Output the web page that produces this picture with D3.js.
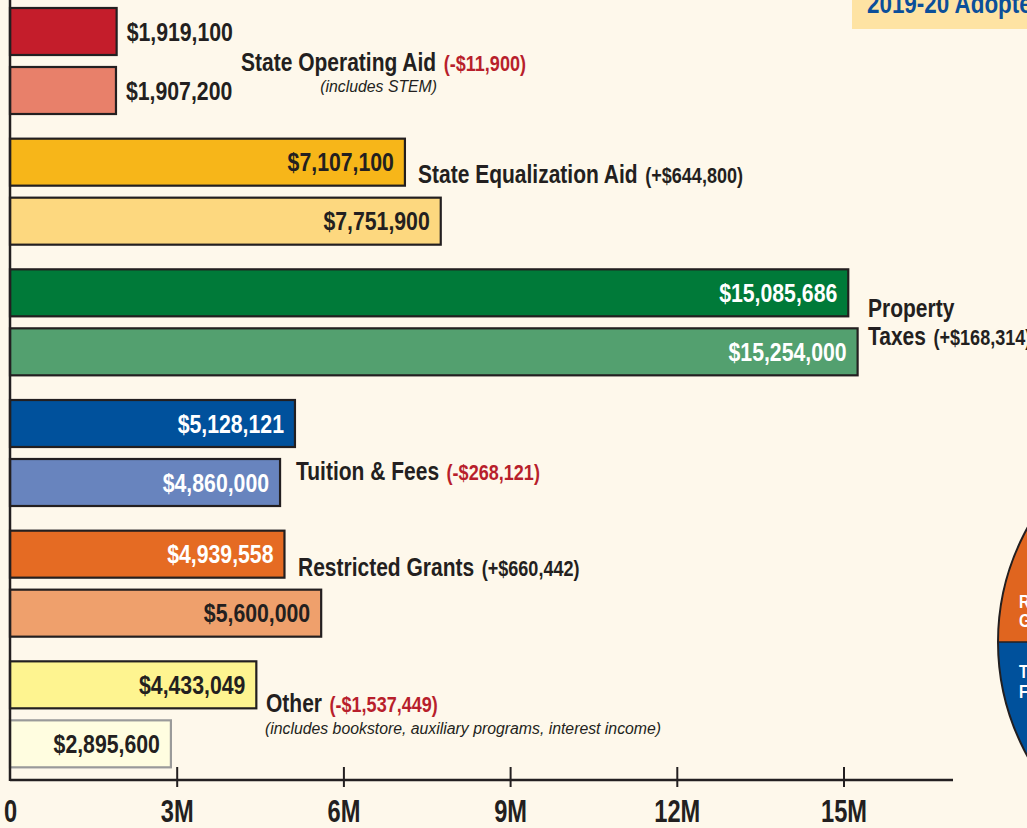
<!DOCTYPE html>
<html>
<head>
<meta charset="utf-8">
<script src="https://cdn.jsdelivr.net/npm/d3@7"></script>
<style>
  html, body { margin: 0; padding: 0; background: #fef8eb; overflow: hidden; }
  svg { display: block; }
  text { font-family: "Liberation Sans", Arial, sans-serif; font-weight: bold; }
</style>
</head>
<body>
<div id="chart"></div>
<script>
// Revenue categories, top bar = 2018-19, bottom bar = 2019-20
const categories = ["State Operating Aid", "State Equalization Aid", "Property Taxes", "Tuition & Fees", "Restricted Grants", "Other"];
const priorValues = [1919100, 7107100, 15085686, 5128121, 4939558, 4433049];
const adoptedValues = [1907200, 7751900, 15254000, 4860000, 5600000, 2895600];
const notes = ["(includes STEM)", "", "", "", "", "(includes bookstore, auxiliary programs, interest income)"];
const tickValues = [0, 3000000, 6000000, 9000000, 12000000, 15000000];
const tickLabels = ["0", "3M", "6M", "9M", "12M", "15M"];

const width = 1027, height = 828;

// colours per category: [dark, light], and text colour inside each bar
const colors = [
    ["#c41d2b", "#e8806a"],
    ["#f7b619", "#fdd87f"],
    ["#007a39", "#53a06f"],
    ["#00519c", "#6884be"],
    ["#e56b23", "#efa06c"],
    ["#fef490", "#fffde0"]
];
const textColors = [
    ["#231f20", "#231f20"],
    ["#231f20", "#231f20"],
    ["#ffffff", "#ffffff"],
    ["#ffffff", "#ffffff"],
    ["#ffffff", "#231f20"],
    ["#231f20", "#231f20"]
];
const ink = "#231f20";

const fmt = d3.format("$,");
const fmtChange = v => (v < 0 ? "(-" : "(+") + fmt(Math.abs(v)) + ")";

// squeeze text horizontally to mimic the condensed gothic face
function place(sel, px, py, k) {
    return sel.attr("x", 0).attr("y", 0)
        .attr("transform", `translate(${px},${py}) scale(${k},1)`);
}

const x = d3.scaleLinear()
    .domain([0, 15000000])
    .range([10, 843.5]);

const y = d3.scaleBand()
    .domain(categories)
    .range([8, 792]);

const barH = 47;
const barGap = 59;

const svg = d3.select("#chart").append("svg")
    .attr("width", width)
    .attr("height", height)
    .attr("viewBox", [0, 0, width, height]);

svg.append("rect").attr("width", width).attr("height", height).attr("fill", "#fef8eb");

// pie wedge peeking in at the right edge
const R = 236;
const pieG = svg.append("g").attr("transform", "translate(1234,642)");
const arc = d3.arc().innerRadius(0).outerRadius(R);
pieG.append("path")
    .attr("d", arc({startAngle: -Math.PI / 2, endAngle: -Math.PI / 2 + 0.9}))
    .attr("fill", "#e0651f");
pieG.append("path")
    .attr("d", arc({startAngle: -Math.PI / 2 - 0.9, endAngle: -Math.PI / 2}))
    .attr("fill", "#00519c");
pieG.append("path")
    .attr("d", d3.arc().innerRadius(R).outerRadius(R)({startAngle: -Math.PI / 2 - 0.9, endAngle: -Math.PI / 2 + 0.9}))
    .attr("fill", "none").attr("stroke", ink).attr("stroke-width", 2);
pieG.append("line").attr("x1", -R).attr("x2", 0).attr("y1", 0).attr("y2", 0)
    .attr("stroke", ink).attr("stroke-width", 1.5);
[["Restricted", -34], ["Grants", -15], ["Tuition", 36], ["Fees", 56]].forEach(([t, dy]) => {
    place(pieG.append("text"), -215, dy, 0.8)
        .attr("fill", "#fff").attr("font-size", 19).text(t);
});

// title box top right
svg.append("rect").attr("x", 852).attr("y", -10).attr("width", 200).attr("height", 39).attr("fill", "#fee3a3");
place(svg.append("text"), 867, 13, 0.8).attr("fill", "#0b4f9a").attr("font-size", 28)
    .text("2019-20 Adopted Budget");

// bars
const rows = svg.selectAll(".row")
    .data(categories)
    .join("g")
    .attr("class", "row");

rows.each(function(cat, i) {
    const g = d3.select(this);
    const vals = [priorValues[i], adoptedValues[i]];
    vals.forEach((v, j) => {
        const top = y(cat) + j * barGap;
        g.append("rect")
            .attr("x", x(0))
            .attr("y", top)
            .attr("width", x(v) - x(0))
            .attr("height", barH)
            .attr("fill", colors[i][j])
            .attr("stroke", (i === 5 && j === 1) ? "#9a9a9a" : ink)
            .attr("stroke-width", 2.2);
        const outside = i === 0;
        place(g.append("text"), outside ? x(v) + 10 : x(v) - 11, top + barH / 2 + 9, 0.85)
            .attr("text-anchor", outside ? "start" : "end")
            .attr("fill", textColors[i][j])
            .attr("font-size", 25)
            .text(fmt(v));
    });
});

// category labels (position offsets per category)
const labelPos = [
    {x: 241, dy: 63},
    {x: 418, dy: 44},
    {x: 868, dy: 48},
    {x: 296, dy: 80},
    {x: 298, dy: 45},
    {x: 266, dy: 51}
];
const kLabel = 0.84;

categories.forEach((cat, i) => {
    const change = adoptedValues[i] - priorValues[i];
    const p = labelPos[i];
    const base = y(cat) + p.dy;
    const changeColor = change < 0 ? "#b81f2c" : ink;
    const addChange = (t) => t.append("tspan").attr("font-size", 21.5).attr("dx", 2)
        .attr("fill", changeColor).text(fmtChange(change));
    if (cat === "Property Taxes") {
        place(svg.append("text"), p.x, base, kLabel)
            .attr("font-size", 25).attr("fill", ink).text("Property");
        const t = place(svg.append("text"), p.x, base + 28, kLabel)
            .attr("font-size", 25).attr("fill", ink);
        t.append("tspan").text("Taxes ");
        addChange(t);
        return;
    }
    const t = place(svg.append("text"), p.x, base, kLabel)
        .attr("font-size", 25).attr("fill", ink);
    t.append("tspan").text(cat + " ");
    addChange(t);
    if (notes[i]) {
        const w = t.node().getComputedTextLength() * kLabel;
        const centered = i === 0;
        place(svg.append("text"), centered ? p.x + w / 2 - 4 : p.x - 1, base + (centered ? 21 : 22), 0.93)
            .attr("text-anchor", centered ? "middle" : "start")
            .attr("font-size", 17)
            .style("font-weight", "normal")
            .style("font-style", "italic")
            .attr("fill", ink)
            .text(notes[i]);
    }
});

// axes
const axisY = 780;
svg.append("line").attr("x1", 10).attr("x2", 10).attr("y1", 0).attr("y2", axisY + 1)
    .attr("stroke", ink).attr("stroke-width", 2.5);

const axisG = svg.append("g")
    .attr("transform", `translate(0,${axisY})`)
    .call(d3.axisBottom(x).tickValues(tickValues).tickSize(0).tickFormat((d, i) => tickLabels[i]));
axisG.select(".domain").remove();
axisG.append("line").attr("x1", 10).attr("x2", 953).attr("stroke", ink).attr("stroke-width", 2.5);
axisG.selectAll(".tick line")
    .attr("y1", -13).attr("y2", 7)
    .attr("stroke", ink).attr("stroke-width", 2);
axisG.selectAll(".tick").filter(d => d === 0).select("line").remove();
axisG.selectAll(".tick text")
    .attr("y", 0).attr("dy", 0)
    .attr("transform", "translate(0,42) scale(0.74,1)")
    .attr("font-size", 32)
    .attr("fill", ink)
    .attr("font-family", null);
</script>
</body>
</html>
